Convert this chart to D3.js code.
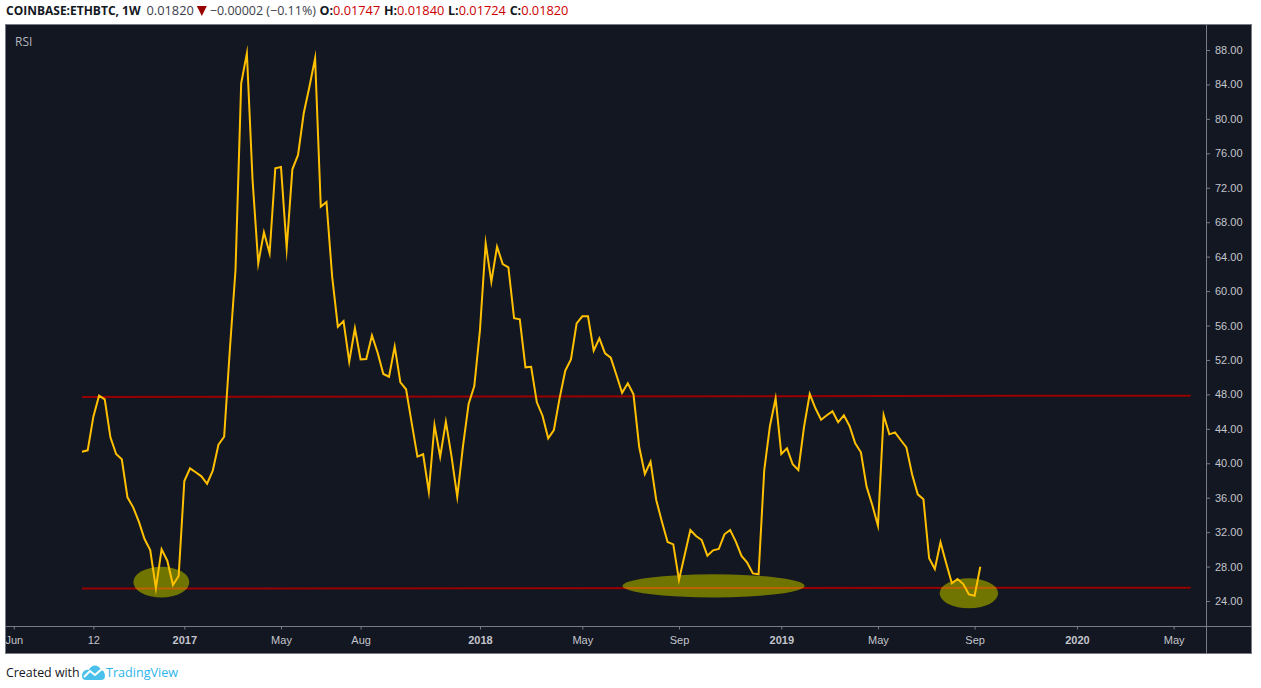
<!DOCTYPE html>
<html>
<head>
<meta charset="utf-8">
<script src="https://cdnjs.cloudflare.com/ajax/libs/d3/7.8.5/d3.min.js"></script>
<style>
  html, body { margin: 0; padding: 0; background: #fff; overflow: hidden; }
  text { font-family: "Open Sans", "Noto Sans", sans-serif; }
  .axis text { font-family: "Liberation Sans", sans-serif; font-size: 11px; fill: #c3c5cc; }
</style>
</head>
<body>
<div id="chart"></div>
<script>
// weekly RSI, first bar is index 0
var rsi = [41.34, 41.50, 45.41, 47.85, 47.43, 43.01, 41.07, 40.46, 36.04, 34.88, 33.21, 31.20, 29.92, 25.47, 30.00, 28.68, 25.86, 26.90,
  37.94, 39.41, 38.95, 38.48, 37.62, 39.13, 42.15, 43.08, 53.15, 62.45, 84.13, 87.62, 72.90, 63.22, 66.83, 64.39, 74.26, 74.41, 64.97,
  74.14, 75.81, 80.65, 83.74, 87.04, 69.80, 70.35, 61.67, 55.86, 56.52, 51.80, 55.67, 52.07, 52.11, 54.86, 52.84, 50.37, 50.05, 53.54,
  49.40, 48.59, 44.64, 40.76, 41.04, 36.69, 44.44, 40.76, 44.83, 40.76, 36.11, 41.92, 46.88, 48.97, 55.48, 65.55, 61.09, 65.15, 63.14,
  62.76, 56.84, 56.72, 51.14, 51.21, 47.08, 45.52, 42.90, 43.86, 47.54, 50.75, 52.07, 56.25, 57.07, 57.07, 53.07, 54.51, 52.77, 52.26,
  50.25, 48.19, 49.29, 48.01, 41.92, 38.75, 40.18, 35.73, 33.21, 30.85, 30.58, 26.44, 29.34, 32.25, 31.55, 31.08, 29.26, 29.89, 30.04,
  31.75, 32.25, 30.89, 29.23, 28.45, 27.21, 27.10, 39.21, 44.33, 47.54, 41.07, 41.73, 39.88, 39.21, 44.24, 48.04, 46.38, 45.06, 45.57,
  46.03, 44.76, 45.57, 44.33, 42.32, 41.27, 37.28, 35.15, 32.75, 45.60, 43.36, 43.59, 42.70, 41.85, 38.72, 36.39, 35.81, 28.96, 27.71,
  30.82, 28.38, 26.05, 26.55, 25.97, 24.77, 24.61, 27.98];

// time axis: bar index of each label
var time_ticks = [-12, 2, 18, 35, 49, 70, 88, 105, 123, 140, 157, 175, 192];
var time_labels = ['Jun', '12', '2017', 'May', 'Aug', '2018', 'May', 'Sep', '2019', 'May', 'Sep', '2020', 'May'];
var year_labels = ['2017', '2018', '2019', '2020'];
var rsi_ticks = [24, 28, 32, 36, 40, 44, 48, 52, 56, 60, 64, 68, 72, 76, 80, 84, 88];

// the two hand drawn levels: [bar, rsi] at both ends
var level_top = [[0, 47.7], [195, 47.85]];
var level_bottom = [[0, 25.45], [195, 25.55]];

// hand drawn ellipses: first bar, last bar, low rsi, high rsi
var zone_bars = [[9.03, 18.88], [95.07, 127.1], [150.85, 161.13]];
var zone_rsi = [[24.42, 27.98], [24.42, 27.10], [23.15, 26.63]];

// header
var quote_name = 'COINBASE:ETHBTC, 1W';
var quote_last = '0.01820';
var quote_change = '\u22120.00002 (\u22120.11%)';
var quote_ohlc = [['O:', '0.01747'], ['H:', '0.01840'], ['L:', '0.01724'], ['C:', '0.01820']];

var width = 1261;
var height = 688;
var bg = '#131722';
var frame = '#787b86';

var svg = d3.select('#chart').append('svg')
  .attr('width', width)
  .attr('height', height)
  .style('display', 'block');

// pane
var pane_left = 5.5, pane_top = 24.5, pane_right = 1251.5, pane_bottom = 653.5;
var axis_x = 1206.5, axis_y = 626.5;

var x_scale = d3.scaleLinear().domain([0, rsi.length - 1]).range([82, 980.3]);
var y_scale = d3.scaleLinear().domain([24, 88]).range([601, 50]);

svg.append('rect')
  .attr('x', pane_left)
  .attr('y', pane_top)
  .attr('width', pane_right - pane_left)
  .attr('height', pane_bottom - pane_top)
  .attr('fill', bg)
  .attr('stroke', frame);

// levels
var level_line = d3.line()
  .x(function(d) { return x_scale(d[0]); })
  .y(function(d) { return y_scale(d[1]); });

svg.selectAll('.level')
  .data([level_top, level_bottom])
  .enter()
  .append('path')
  .attr('class', 'level')
  .attr('d', level_line)
  .attr('fill', 'none')
  .attr('stroke', '#990000')
  .attr('stroke-width', 2);

// ellipses
function add_zones(sel) {
  sel.selectAll('ellipse')
    .data(zone_bars)
    .enter()
    .append('ellipse')
    .attr('cx', function(d) { return (x_scale(d[0]) + x_scale(d[1])) / 2; })
    .attr('cy', function(d, i) { return (y_scale(zone_rsi[i][0]) + y_scale(zone_rsi[i][1])) / 2; })
    .attr('rx', function(d) { return (x_scale(d[1]) - x_scale(d[0])) / 2; })
    .attr('ry', function(d, i) { return (y_scale(zone_rsi[i][0]) - y_scale(zone_rsi[i][1])) / 2; });
}

add_zones(svg.append('g').attr('fill', '#707400'));
add_zones(svg.append('clipPath').attr('id', 'zone-clip'));

// the level shows through the ellipse as orange
svg.append('path')
  .datum(level_bottom)
  .attr('d', level_line)
  .attr('fill', 'none')
  .attr('stroke', '#bd6200')
  .attr('stroke-width', 2)
  .attr('clip-path', 'url(#zone-clip)');

// rsi line
var rsi_line = d3.line()
  .x(function(d, i) { return x_scale(i); })
  .y(function(d) { return y_scale(d); });

svg.append('path')
  .datum(rsi)
  .attr('d', rsi_line)
  .attr('fill', 'none')
  .attr('stroke', '#ffc000')
  .attr('stroke-width', 2)
  .attr('stroke-linejoin', 'miter')
  .attr('stroke-miterlimit', 20);

// axes
var y_axis = d3.axisRight(y_scale)
  .tickValues(rsi_ticks)
  .tickSize(3.5)
  .tickPadding(5)
  .tickFormat(d3.format('.2f'));

var y_g = svg.append('g')
  .attr('class', 'axis')
  .attr('transform', 'translate(' + axis_x + ',0)')
  .call(y_axis);
y_g.select('.domain').remove();

var x_axis = d3.axisBottom(x_scale)
  .tickValues(time_ticks)
  .tickSize(3)
  .tickPadding(7)
  .tickFormat(function(d, i) { return time_labels[i]; });

var x_g = svg.append('g')
  .attr('class', 'axis')
  .attr('transform', 'translate(0,' + axis_y + ')')
  .call(x_axis);
x_g.select('.domain').remove();
x_g.selectAll('text')
  .style('font-weight', function(d, i) { return year_labels.indexOf(time_labels[i]) >= 0 ? 'bold' : 'normal'; });

svg.selectAll('.tick line').attr('stroke', frame);

svg.append('line')
  .attr('x1', axis_x).attr('x2', axis_x)
  .attr('y1', pane_top).attr('y2', pane_bottom)
  .attr('stroke', frame);
svg.append('line')
  .attr('x1', pane_left).attr('x2', pane_right)
  .attr('y1', axis_y).attr('y2', axis_y)
  .attr('stroke', frame);

svg.append('text')
  .text('RSI')
  .attr('x', 15)
  .attr('y', 46)
  .attr('font-size', 12)
  .attr('fill', '#b2b5be');

// header, laid out left to right from measured widths
var head_x = 6;
function head_text(str, weight, color, gap, size) {
  var t = svg.append('text')
    .text(str)
    .attr('x', head_x)
    .attr('y', 15)
    .attr('font-size', size)
    .attr('font-weight', weight)
    .attr('fill', color);
  head_x += t.node().getComputedTextLength() + gap;
}
head_text(quote_name, 'bold', '#131722', 6, 12);
head_text(quote_last, 'normal', '#3a3e4a', 3, 12.8);
svg.append('path')
  .attr('d', d3.line()([[head_x, 6], [head_x + 10, 6], [head_x + 5, 16]]))
  .attr('fill', '#990000');
head_x += 13;
head_text(quote_change, 'normal', '#3a3e4a', 3.5, 12.5);
quote_ohlc.forEach(function(d) {
  head_text(d[0], 'bold', '#131722', 0, 12.5);
  head_text(d[1], 'normal', '#cc0000', 3.7, 12.8);
});

// footer
svg.append('text')
  .text('Created with')
  .attr('x', 6)
  .attr('y', 677)
  .attr('font-size', 12.4)
  .attr('fill', '#131722');
svg.append('path')
  .attr('d', 'M82 676 C82 671 86 669 89 670 C91 664 99 664 101 670 C104 670 105 674 105 676 C105 679 103 680 101 680 L86 680 C84 680 82 679 82 676 Z')
  .attr('fill', '#4bc0ea');
svg.append('path')
  .attr('d', 'M84 677 L90 671 L95 675 L103 668')
  .attr('fill', 'none')
  .attr('stroke', '#fff')
  .attr('stroke-width', 2);
svg.append('text')
  .text('TradingView')
  .attr('x', 106)
  .attr('y', 677)
  .attr('font-size', 12.6)
  .attr('fill', '#2eb5ea');
</script>
</body>
</html>
